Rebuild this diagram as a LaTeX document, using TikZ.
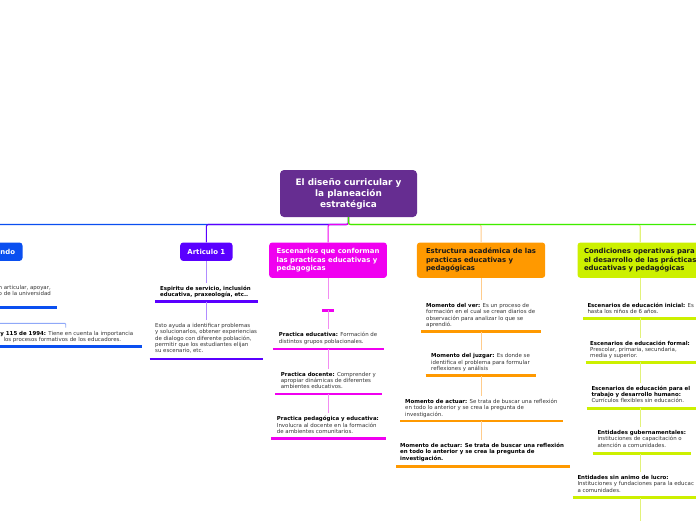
\documentclass[tikz,border=0pt]{standalone}
\usepackage{fontspec}
\setmainfont{DejaVu Sans}
\definecolor{cmain}{HTML}{662D91}
\definecolor{cblue}{HTML}{0A4FF0}
\definecolor{cviolet}{HTML}{5A00FF}
\definecolor{cmag}{HTML}{F000F0}
\definecolor{corange}{HTML}{FF9900}
\definecolor{clime}{HTML}{CCF000}
\definecolor{cgreen}{HTML}{3CEE00}
\definecolor{lblue}{HTML}{8FA8F8}
\definecolor{lviolet}{HTML}{B08CFF}
\definecolor{lmag}{HTML}{F28CF2}
\definecolor{lorange}{HTML}{FFCC8C}
\definecolor{llime}{HTML}{E2F27A}
\definecolor{txt}{HTML}{333333}
\newcommand\kb[1]{\textbf{\color{black}#1}}
\newcommand\uline[5]{\draw[ulsty,#1] (#2,#4) -- (#3,#4); \coordinate (#5) at (#2,#4);}
\begin{document}
\begin{tikzpicture}[x=1pt,y=-1pt,
  conn/.style={line width=0.9pt, rounded corners=2pt},
  topconn/.style={line width=1.1pt, rounded corners=2pt},
  ulsty/.style={line width=2.6pt},
  kid/.style={inner xsep=0pt, inner ysep=3pt, anchor=north west, align=left,
    font=\fontsize{5.45}{6.3}\selectfont, text=txt},
  cat/.style={rounded corners=3pt, anchor=north west, inner xsep=0pt, inner ysep=0pt,
    align=left, minimum height=35.4pt, font=\bfseries\fontsize{6.9}{8.5}\selectfont},
  mainbox/.style={fill=cmain, text=white, rounded corners=4pt, minimum width=137pt,
    minimum height=47pt, align=center, inner sep=0pt,
    font=\bfseries\fontsize{8.9}{11}\selectfont}]
\useasboundingbox (0,0) rectangle (696,520);
\clip (0,0) rectangle (696,520);
\fill[white] (0,0) rectangle (696,520);

% main node
\node[mainbox] (m) at (348.5,193.5) {El diseño curricular y\\la planeación\\estratégica};

% category nodes
\node[cat, fill=cblue, text=white, anchor=north east, text width=50pt, align=right,
  minimum height=18.4pt, inner xsep=7.5pt] (b) at (22.7,242.3) {ndo};
\node[cat, fill=cviolet, text=white, anchor=north west, align=center,
  minimum width=52.3pt, minimum height=18.4pt] (a) at (180,242.3) {Articulo 1};
\node[cat, fill=cmag, text=white, minimum width=117.7pt] (c3) at (269,242.3)
  {Escenarios que conforman\\las practicas educativas y\\pedagogicas};
\node[cat, fill=corange, text=black!90, minimum width=128.3pt] (c4) at (416.7,242.3)
  {Estructura académica de las\\practicas educativas y\\pedagógicas};
\node[cat, fill=clime, text=black!90, minimum width=125.4pt] (c5) at (577.3,242.3)
  {Condiciones operativas para\\el desarrollo de las prácticas\\educativas y pedagógicas};

% top connectors
\coordinate (hl) at (0,224.5);
\coordinate (hr) at (700,224.5);
\draw[topconn, cblue] (m.south) -- (m.south |- hl) -| (b.north);
\draw[topconn, cviolet] (m.south) -- (m.south |- hl) -| (a.north);
\draw[topconn, cmag] (m.south) -- (m.south |- hl) -| (c3.north);
\draw[topconn, lorange] (m.south) -- (m.south |- hl) -| (c4.north);
\draw[topconn, llime] (m.south) -- (m.south |- hl) -| (c5.north);
\draw[topconn, cgreen] (m.south) -- (m.south |- hl) -- (hr);

% left blue column
\node[kid, anchor=north east, align=right] (b1) at (51,282.1) {n articular, apoyar,\\o de la universidad};
\uline{cblue}{-10}{56.7}{307.7}{ub1}
\node[kid] (b2) at (0.3,327.7) {\kb{y 115 de 1994:} Tiene en cuenta la importancia\\ \hspace*{3pt}los procesos formativos de los educadores.};
\uline{cblue}{-10}{142.3}{346.7}{ub2}
\coordinate (bl) at (0,323.3);
\coordinate (bt) at (65.7,0);
\draw[conn, lblue, rounded corners=1pt] (bl) -| (bt |- b2.north);

% Articulo 1 column
\node[kid] (a1) at (160,282.7) {\kb{Espiritu de servicio, inclusión}\\\kb{educativa, praxeología, etc..}};
\uline{cviolet}{155}{257.7}{301.7}{ua1}
\node[kid] (a2) at (155,320.1) {Esto ayuda a identificar problemas\\y solucionarlos, obtener experiencias\\de dialogo con diferente población,\\permitir que los estudiantes elijan\\su escenario, etc.};
\uline{cviolet}{149.7}{263.3}{359}{ua2}
\draw[conn, lviolet] (a.south) -- (a.south |- a1.north);
\draw[conn, lviolet] (a.south |- ua1) -- (a.south |- a2.north);

% Escenarios column
\coordinate (e0) at (328,299);
\uline{cmag}{322.3}{334.3}{310.3}{ue0}
\node[kid] (e1) at (278.7,329.4) {\kb{Practica educativa:} Formación de\\distintos grupos poblacionales.};
\uline{cmag}{273.3}{384}{349}{ue1}
\node[kid] (e2) at (280.7,368.7) {\kb{Practica docente:} Comprender y\\apropiar dinámicas de diferentes\\ambientes educativos.};
\uline{cmag}{275}{382.3}{394}{ue2}
\node[kid] (e3) at (276.7,413.4) {\kb{Practica pedagógica y educativa:}\\Involucra al docente en la formación\\de ambientes comunitarios.};
\uline{cmag}{271}{385.7}{438.7}{ue3}
\draw[conn, lmag] (c3.south) -- (c3.south |- e0);
\draw[conn, lmag] (c3.south |- ue0) -- (c3.south |- e1.north);
\draw[conn, lmag] (c3.south |- ue1) -- (c3.south |- e2.north);
\draw[conn, lmag] (c3.south |- ue2) -- (c3.south |- e3.north);

% Estructura column
\node[kid] (s1) at (426,300.1) {\kb{Momento del ver:} Es un proceso de\\formación en el cual se crean diarios de\\observación para analizar lo que se\\aprendió.};
\uline{corange}{421}{541}{331.7}{us1}
\node[kid] (s2) at (431,350.4) {\kb{Momento del juzgar:} Es donde se\\identifica el problema para formular\\reflexiones y análisis};
\uline{corange}{425.7}{535.7}{375.7}{us2}
\node[kid] (s3) at (405,396.1) {\kb{Momento de actuar:} Se trata de buscar una reflexión\\en todo lo anterior y se crea la pregunta de\\investigación.};
\uline{corange}{400}{563.3}{421}{us3}
\node[kid] (s4) at (400,440.1) {\kb{Momento de actuar: Se trata de buscar una reflexión}\\\kb{en todo lo anterior y se crea la pregunta de}\\\kb{investigación.}};
\uline{corange}{396}{570}{466.3}{us4}
\draw[conn, lorange] (c4.south) -- (c4.south |- s1.north);
\draw[conn, lorange] (c4.south |- us1) -- (c4.south |- s2.north);
\draw[conn, lorange] (c4.south |- us2) -- (c4.south |- s3.north);
\draw[conn, lorange] (c4.south |- us3) -- (c4.south |- s4.north);

% Condiciones column
\node[kid] (d1) at (587.3,299.7) {\kb{Escenarios de educación inicial:} Es\\hasta los niños de 6 años.};
\uline{clime}{583.3}{700}{318.3}{ud1}
\node[kid] (d2) at (590,337.7) {\kb{Escenarios de educación formal:}\\Prescolar, primaria, secundaria,\\media y superior.};
\uline{clime}{585.7}{700}{362.3}{ud2}
\node[kid] (d3) at (591.3,382.7) {\kb{Escenarios de educación para el}\\\kb{trabajo y desarrollo humano:}\\Currículos flexibles sin educación.};
\uline{clime}{586.7}{700}{408.3}{ud3}
\node[kid] (d4) at (597.3,427.1) {\kb{Entidades gubernamentales:}\\instituciones de capacitación o\\atención a comunidades.};
\uline{clime}{592.7}{690.7}{453.7}{ud4}
\node[kid] (d5) at (577.3,472.1) {\kb{Entidades sin animo de lucro:}\\Instituciones y fundaciones para la educac\\a comunidades.};
\uline{clime}{572.7}{700}{497.7}{ud5}
\coordinate (dend) at (640,525);
\draw[conn, llime] (c5.south) -- (c5.south |- d1.north);
\draw[conn, llime] (c5.south |- ud1) -- (c5.south |- d2.north);
\draw[conn, llime] (c5.south |- ud2) -- (c5.south |- d3.north);
\draw[conn, llime] (c5.south |- ud3) -- (c5.south |- d4.north);
\draw[conn, llime] (c5.south |- ud4) -- (c5.south |- d5.north);
\draw[conn, llime] (c5.south |- ud5) -- (c5.south |- dend);
\end{tikzpicture}
\end{document}
